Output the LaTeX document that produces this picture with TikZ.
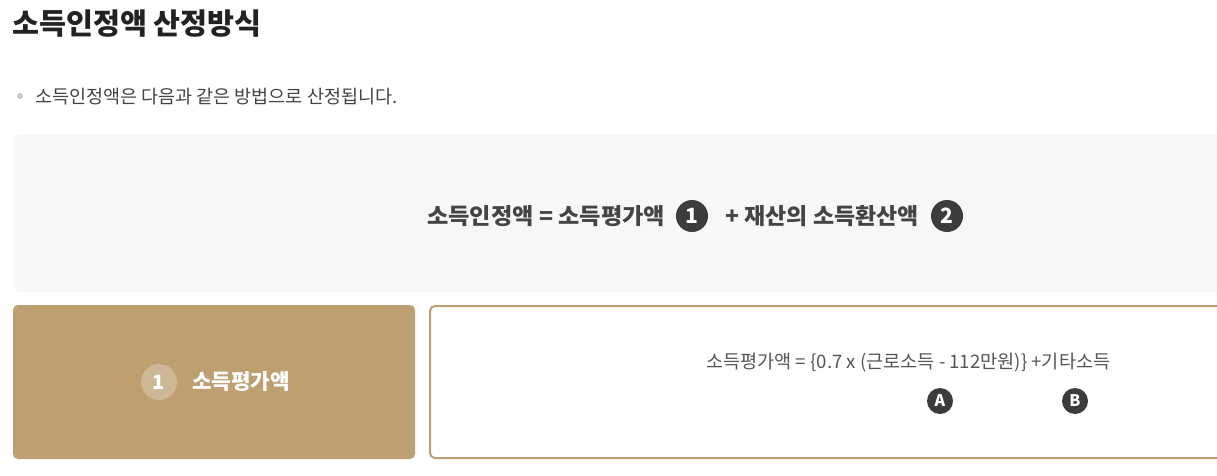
\documentclass[tikz,border=0pt]{standalone}
\usepackage{fontspec}
\setmainfont{Noto Sans CJK KR}
\definecolor{brownc}{HTML}{BE9F72}
\definecolor{grayc}{HTML}{F7F7F9}
\definecolor{dark}{HTML}{3C3C3C}
\definecolor{titlec}{HTML}{222222}
\definecolor{textc}{HTML}{444444}
\definecolor{formc}{HTML}{555555}
\definecolor{dotc}{HTML}{C8C8C8}
\begin{document}
\begin{tikzpicture}[x=1pt,y=-1pt,
  badge/.style={circle,fill=dark,text=white,inner sep=0pt,minimum size=#1,font=\fontsize{21}{21}\selectfont\bfseries},
  lbl/.style={inner sep=0pt,anchor=west}]
\useasboundingbox (0,0) rectangle (1217,476);
\clip (0,0) rectangle (1217,476);
\fill[white] (0,0) rectangle (1217,476);
% title
\node[lbl,text=titlec,font=\fontsize{29.3}{30}\selectfont\bfseries] (title) at (12,24) {소득인정액 산정방식};
% bullet
\fill[dotc] (20,96) circle (3);
\node[lbl,text=textc,font=\fontsize{18.5}{19}\selectfont] (sub) at (35,97) {소득인정액은 다음과 같은 방법으로 산정됩니다.};
% gray box
\fill[grayc,rounded corners=8] (13,134) rectangle (1240,292);
\node[lbl,text=textc,font=\fontsize{22.5}{23}\selectfont\bfseries] (f1) at (427,216) {\scalebox{1.03}[1]{소득인정액 = 소득평가액}};
\node[badge=32] (b1) at (692,216) {1};
\node[lbl,text=textc,font=\fontsize{22.5}{23}\selectfont\bfseries] (f2) at (725,216) {\scalebox{1.02}[1]{+ 재산의 소득환산액}};
\node[badge=32] (b2) at (947,216) {2};
% brown box
\fill[brownc,rounded corners=5] (13,305) rectangle (415,459);
\node[circle,fill=white,fill opacity=0.25,minimum size=36,inner sep=0pt] (c1) at (159,382) {};
\node[text=white,font=\fontsize{20}{20}\selectfont\bfseries] at (c1) {1};
\node[lbl,text=white,font=\fontsize{21.3}{22}\selectfont\bfseries] (t1) at (192,382) {소득평가액};
% white box
\draw[brownc,line width=2,rounded corners=5] (430,306) rectangle (1240,458);
\node[lbl,text=formc,font=\fontsize{18.6}{19}\selectfont] (f3) at (706,363) {소득평가액 = \{0.7 x (근로소득 - 112만원)\} +기타소득};
\node[badge=26,font=\fontsize{16}{16}\selectfont\bfseries] (ba) at (940,401) {A};
\node[badge=26,font=\fontsize{16}{16}\selectfont\bfseries] (bb) at (1075,401) {B};
\end{tikzpicture}
\end{document}
